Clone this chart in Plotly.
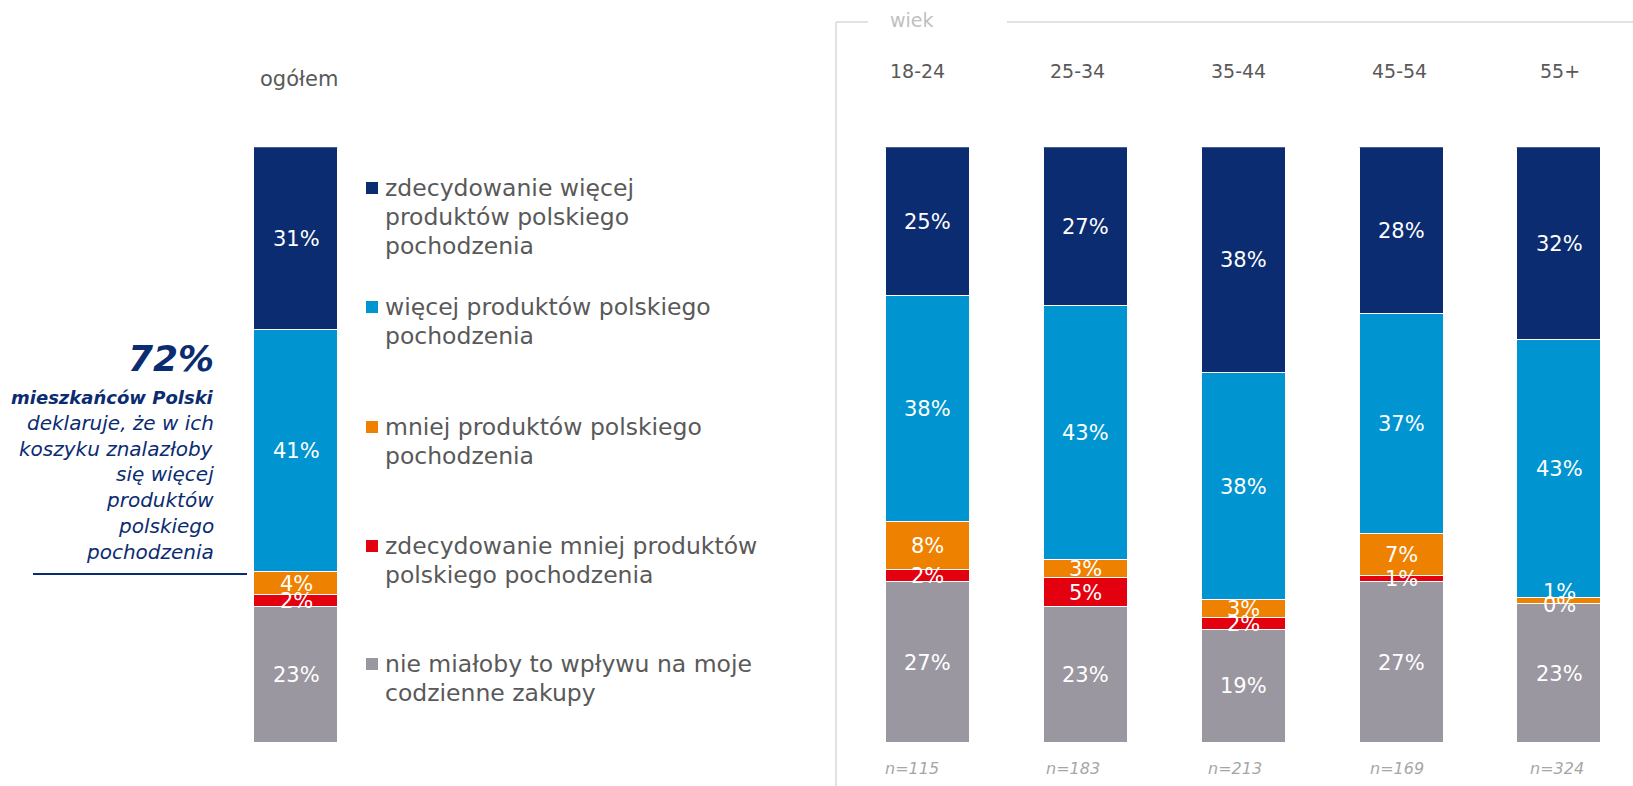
import plotly.graph_objects as go

# ---- data -----------------------------------------------------------------
series_names = [
    "zdecydowanie więcej produktów polskiego pochodzenia",
    "więcej produktów polskiego pochodzenia",
    "mniej produktów polskiego pochodzenia",
    "zdecydowanie mniej produktów polskiego pochodzenia",
    "nie miałoby to wpływu na moje codzienne zakupy",
]
legend_lines = [
    ["zdecydowanie więcej", "produktów polskiego", "pochodzenia"],
    ["więcej produktów polskiego", "pochodzenia"],
    ["mniej produktów polskiego", "pochodzenia"],
    ["zdecydowanie mniej produktów", "polskiego pochodzenia"],
    ["nie miałoby to wpływu na moje", "codzienne zakupy"],
]
colors = ["#0B2C71", "#0095D0", "#EE8200", "#E3000F", "#9A97A0"]

total_label = "ogółem"
total_values = [31, 41, 4, 2, 23]          # one value per series

age_groups = ["18-24", "25-34", "35-44", "45-54", "55+"]
age_values = [
    [25, 27, 38, 28, 32],   # zdecydowanie więcej
    [38, 43, 38, 37, 43],   # więcej
    [8, 3, 3, 7, 1],        # mniej
    [2, 5, 2, 1, 0],        # zdecydowanie mniej
    [27, 23, 19, 27, 23],   # bez wpływu
]
sample_sizes = ["n=115", "n=183", "n=213", "n=169", "n=324"]

headline_value = "72%"
headline_lines = ["mieszkańców Polski", "deklaruje, że w ich", "koszyku znalazłoby",
                  "się więcej", "produktów", "polskiego", "pochodzenia"]

# ---- page geometry helpers -------------------------------------------------
W, H = 1633, 786
FONT = "DejaVu Sans"
PLOT_TOP, PLOT_BOTTOM = 147.3, 743


def px(x):
    return x / W


def py(y):
    return 1 - y / H


fig = go.Figure()

# stack from the bottom: last series first
stack_order = list(range(len(series_names)))[::-1]
for i in stack_order:
    fig.add_trace(go.Bar(
        x=[total_label], y=[total_values[i]], name=series_names[i],
        marker=dict(color=colors[i], line=dict(color="white", width=1.2)),
        width=0.532, xaxis="x", yaxis="y", showlegend=False, hoverinfo="skip",
    ))
    fig.add_trace(go.Bar(
        x=age_groups, y=age_values[i], name=series_names[i],
        marker=dict(color=colors[i], line=dict(color="white", width=1.2)),
        width=0.532, xaxis="x2", yaxis="y", showlegend=False, hoverinfo="skip",
    ))

annotations = []
px_per_pct = (PLOT_BOTTOM - PLOT_TOP) / 100


def segment_labels(xref, cats, columns):
    # columns: list (per category) of values in series order
    for cat, vals in zip(cats, columns):
        total = sum(vals)
        cum = 0.0
        prev_centre = None
        for i in stack_order:
            v = vals[i]
            centre = (cum + v / 2) / total * 100
            cum += v
            # lift a label that would sit almost on top of the one below it
            lift = 0
            if prev_centre is not None and (centre - prev_centre) * px_per_pct < 10:
                lift = 10
            prev_centre = centre
            annotations.append(dict(
                xref=xref, yref="y", x=cat, y=centre, text=f"{v}%", yshift=lift,
                yanchor="middle", showarrow=False,
                font=dict(family=FONT, size=21, color="white"),
            ))


segment_labels("x", [total_label], [total_values])
segment_labels("x2", age_groups, [[age_values[s][k] for s in range(5)] for k in range(5)])

# column headers and sample sizes
header_shift = [-10, -8, -5, -2, 1]
n_shift = [-16, -13, -9, -5, -2]
for k, g in enumerate(age_groups):
    annotations.append(dict(
        xref="x2", yref="paper", x=g, y=py(71), text=g, showarrow=False,
        yanchor="middle", xshift=header_shift[k],
        font=dict(family=FONT, size=19, color="#595959"),
    ))
    annotations.append(dict(
        xref="x2", yref="paper", x=g, y=py(768), text=sample_sizes[k], showarrow=False,
        yanchor="middle", xshift=n_shift[k],
        font=dict(family=FONT, size=16, color="#A6A6A6", style="italic"),
    ))
annotations.append(dict(
    xref="x", yref="paper", x=total_label, y=py(79), text=total_label, showarrow=False,
    yanchor="middle", xshift=3, font=dict(family=FONT, size=21, color="#595959"),
))
annotations.append(dict(
    xref="paper", yref="paper", x=px(912), y=py(20), text="wiek", showarrow=False,
    yanchor="middle", font=dict(family=FONT, size=19, color="#BFBFBF"),
))

# legend block beside the total column
shapes = []
legend_centres = [188, 307, 427, 546, 664]
legend_pitch = 29
for i, lines in enumerate(legend_lines):
    c = legend_centres[i]
    shapes.append(dict(type="rect", xref="paper", yref="paper",
                       x0=px(366), x1=px(378), y0=py(c - 6), y1=py(c + 6),
                       fillcolor=colors[i], line=dict(width=0)))
    for j, line in enumerate(lines):
        annotations.append(dict(
            xref="paper", yref="paper", x=px(383), y=py(c + j * legend_pitch),
            xanchor="left", yanchor="middle", text=line, showarrow=False,
            font=dict(family=FONT, size=23.5, color="#595959"),
        ))

# headline on the left
navy = colors[0]
annotations.append(dict(
    xref="paper", yref="paper", x=px(216), y=py(358), xanchor="right", yanchor="middle",
    text=f"<b>{headline_value}</b>", showarrow=False,
    font=dict(family=FONT, size=36, color=navy, style="italic"),
))
for j, line in enumerate(headline_lines):
    bold = j == 0
    annotations.append(dict(
        xref="paper", yref="paper", x=px(216), y=py(397 + j * 25.8),
        xanchor="right", yanchor="middle",
        text=f"<b>{line}</b>" if bold else line, showarrow=False,
        font=dict(family=FONT, size=18 if bold else 20, color=navy, style="italic"),
    ))
shapes.append(dict(type="line", xref="paper", yref="paper",
                   x0=px(33), x1=px(247), y0=py(574), y1=py(574),
                   line=dict(color=navy, width=2)))

# frame around the age section
frame = dict(color="#D9D9D9", width=1.5)
shapes += [
    dict(type="line", xref="paper", yref="paper", x0=px(836), x1=px(836),
         y0=py(22), y1=0, line=frame),
    dict(type="line", xref="paper", yref="paper", x0=px(836), x1=px(868),
         y0=py(22), y1=py(22), line=frame),
    dict(type="line", xref="paper", yref="paper", x0=px(1007), x1=1,
         y0=py(22), y1=py(22), line=frame),
]

axis_off = dict(showgrid=False, zeroline=False, showticklabels=False, showline=False,
                ticks="", fixedrange=True)
fig.update_layout(
    width=W, height=H,
    margin=dict(l=0, r=0, t=0, b=0),
    paper_bgcolor="white", plot_bgcolor="white",
    barmode="stack", barnorm="percent", bargap=0,
    xaxis=dict(domain=[px(217.3), px(375.3)], range=[-0.5, 0.5], type="category",
               anchor="y", **axis_off),
    xaxis2=dict(domain=[px(840), 1.0], range=[-0.556, 4.466], type="category",
                anchor="y", **axis_off),
    yaxis=dict(domain=[py(PLOT_BOTTOM), py(PLOT_TOP)], range=[0, 100], **axis_off),
    annotations=annotations,
    shapes=shapes,
    font=dict(family=FONT),
)

fig.write_html("out.html")
